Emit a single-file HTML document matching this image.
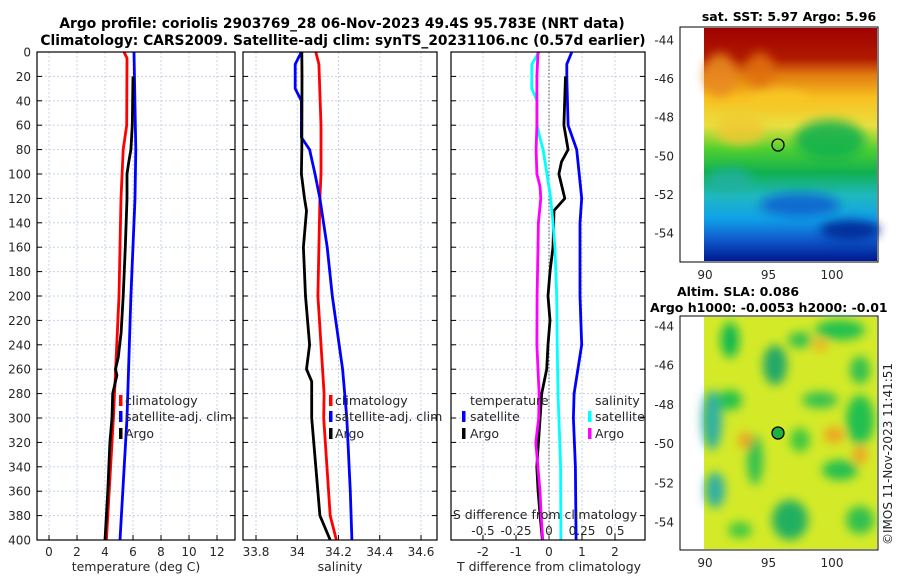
<!DOCTYPE html>
<html><head><meta charset="utf-8"><style>
body{margin:0;background:#fff;}
svg{display:block;font-family:"DejaVu Sans","Liberation Sans",sans-serif;}
.tk{font-size:12px;fill:#262626;}
.ttl{font-size:12.5px;font-weight:bold;fill:#000;}
.ttl2{font-size:13.8px;font-weight:bold;fill:#000;}
</style></head><body>
<svg id="fig" width="900" height="580" viewBox="0 0 900 580">
<defs>
<linearGradient id="sstg" x1="0" y1="0" x2="0" y2="1">
<stop offset="0" stop-color="#a00000"/><stop offset="0.13" stop-color="#b01a00"/>
<stop offset="0.2" stop-color="#e07a10"/><stop offset="0.3" stop-color="#f8c020"/>
<stop offset="0.42" stop-color="#e8e040"/><stop offset="0.52" stop-color="#50d030"/>
<stop offset="0.62" stop-color="#10b050"/><stop offset="0.72" stop-color="#20b8c0"/>
<stop offset="0.82" stop-color="#10a0e8"/><stop offset="0.9" stop-color="#1060d0"/>
<stop offset="1" stop-color="#001890"/></linearGradient>
<filter id="blur"><feGaussianBlur stdDeviation="5"/></filter>
</defs>
<text class="ttl2" x="342" y="28" text-anchor="middle">Argo profile: coriolis 2903769_28 06-Nov-2023 49.4S 95.783E (NRT data)</text>
<text class="ttl2" x="343" y="45" text-anchor="middle">Climatology: CARS2009. Satellite-adj clim: synTS_20231106.nc (0.57d earlier)</text>
<g id="plots"></g>
<g>
<text class="ttl" x="789" y="21" text-anchor="middle">sat. SST: 5.97 Argo: 5.96</text>
<rect x="680" y="27" width="198" height="235" fill="#fff" stroke="#000"/>
<rect x="704" y="28" width="173" height="233" fill="url(#sstg)"/>
<g filter="url(#blur)" opacity="0.85">
<ellipse cx="720" cy="75" rx="16" ry="22" fill="#e88a20"/>
<ellipse cx="760" cy="70" rx="14" ry="18" fill="#e07010"/>
<ellipse cx="830" cy="140" rx="35" ry="20" fill="#10b050"/>
<ellipse cx="740" cy="130" rx="25" ry="15" fill="#f0c830"/>
<ellipse cx="800" cy="205" rx="40" ry="12" fill="#1060d0"/>
<ellipse cx="730" cy="180" rx="22" ry="12" fill="#20b0a0"/>
<ellipse cx="850" cy="230" rx="30" ry="10" fill="#002090"/>
<ellipse cx="780" cy="100" rx="30" ry="10" fill="#f8c828"/>
</g>
<circle cx="778" cy="145" r="6" fill="none" stroke="#000" stroke-width="1.3"/>
</g>
<g>
<text class="ttl" x="677" y="296">Altim. SLA: 0.086</text>
<text class="ttl" x="650" y="312">Argo h1000: -0.0053 h2000: -0.01</text>
<rect x="680" y="316" width="198" height="234" fill="#fff" stroke="#000"/>
<rect x="704" y="317" width="173" height="232" fill="#d4ea28"/>
<g filter="url(#blur)">
<ellipse cx="730" cy="340" rx="9" ry="18" fill="#10b850"/>
<ellipse cx="775" cy="365" rx="12" ry="20" fill="#20a868"/>
<ellipse cx="712" cy="420" rx="10" ry="30" fill="#30b0a0"/>
<ellipse cx="715" cy="490" rx="10" ry="18" fill="#30b0a0"/>
<ellipse cx="840" cy="330" rx="25" ry="10" fill="#20c050"/>
<ellipse cx="860" cy="420" rx="14" ry="25" fill="#20c050"/>
<ellipse cx="790" cy="520" rx="18" ry="20" fill="#20b060"/>
<ellipse cx="840" cy="470" rx="18" ry="10" fill="#20c050"/>
<ellipse cx="755" cy="460" rx="8" ry="25" fill="#30c050"/>
<ellipse cx="820" cy="400" rx="18" ry="8" fill="#30c050"/>
<ellipse cx="730" cy="400" rx="12" ry="10" fill="#20c050"/>
<ellipse cx="800" cy="440" rx="10" ry="12" fill="#40c840"/>
<ellipse cx="860" cy="370" rx="10" ry="14" fill="#30c050"/>
<ellipse cx="740" cy="530" rx="12" ry="8" fill="#40c840"/>
<ellipse cx="800" cy="340" rx="12" ry="8" fill="#30c050"/>
<ellipse cx="860" cy="520" rx="14" ry="14" fill="#30c050"/>
<ellipse cx="834" cy="435" rx="10" ry="8" fill="#f0a020"/>
<ellipse cx="745" cy="440" rx="7" ry="8" fill="#f0a020"/>
<ellipse cx="820" cy="345" rx="8" ry="6" fill="#f0b020"/>
<ellipse cx="860" cy="455" rx="7" ry="9" fill="#f0a020"/>
</g>
<circle cx="778" cy="433" r="6" fill="#20b040" stroke="#000" stroke-width="1.3"/>
</g>
<text x="892" y="545" transform="rotate(-90 892 545)" font-size="12" fill="#262626">©IMOS 11-Nov-2023 11:41:51</text>
</svg>
<script>
// ---- data ----
const depthTicks = [0,20,40,60,80,100,120,140,160,180,200,220,240,260,280,300,320,340,360,380,400];
const tempTicks = [0,2,4,6,8,10,12];
const salTicks = [33.8,34,34.2,34.4,34.6];
const tdiffTicks = [-2,-1,0,1,2];
const sdiffTicks = [-0.5,-0.25,0,0.25,0.5];
const tClimDepth = [0,5,60,80,120,200,300,400];
const tClimVal = [5.36,5.57,5.55,5.3,5.14,5.0,4.6,4.1];
const tSatDepth = [0,80,120,200,300,400];
const tSatVal = [6.07,6.2,6.14,5.85,5.57,5.07];
const tArgoDepth = [20,60,80,90,100,120,160,200,230,250,260,265,280,300,320,360,400];
const tArgoVal = [6.0,5.95,5.85,5.7,5.57,5.57,5.45,5.3,5.15,4.95,4.75,4.85,4.55,4.5,4.35,4.2,4.0];
const sClimDepth = [0,10,60,100,120,200,280,300,380,400];
const sClimVal = [34.09,34.105,34.115,34.115,34.11,34.1,34.13,34.128,34.16,34.19];
const sSatDepth = [0,10,30,40,60,70,80,100,120,160,200,260,300,360,400];
const sSatVal = [34.02,33.99,33.99,34.02,34.02,34.02,34.06,34.086,34.11,34.145,34.17,34.22,34.24,34.257,34.265];
const sArgoDepth = [0,20,80,100,120,130,160,200,240,260,270,300,340,380,400];
const sArgoVal = [34.022,34.023,34.022,34.02,34.035,34.045,34.03,34.04,34.06,34.045,34.07,34.07,34.09,34.11,34.16];
const dtSatDepth = [0,10,20,60,80,120,140,200,240,280,300,340,400];
const dtSatVal = [0.69,0.54,0.54,0.58,0.84,0.99,0.94,0.94,0.99,0.76,0.74,0.8,0.82];
const dtArgoDepth = [20,60,80,90,100,120,130,160,180,200,220,240,260,280,300,340,360,380,400];
const dtArgoVal = [0.5,0.45,0.58,0.38,0.3,0.48,0.15,0.12,0.03,-0.03,0.03,-0.03,-0.07,-0.22,-0.27,-0.37,-0.33,-0.27,-0.2];
const dsSatDepth = [0,10,30,40,60,70,80,100,120,140,160,200,240,280,300,340,400];
const dsSatVal = [-0.075,-0.13,-0.13,-0.09,-0.09,-0.07,-0.045,-0.015,0.013,0.03,0.045,0.058,0.062,0.068,0.075,0.088,0.09];
const dsArgoDepth = [0,20,60,80,100,110,120,140,160,200,240,280,300,320,360,380,400];
const dsArgoVal = [-0.083,-0.092,-0.092,-0.098,-0.092,-0.068,-0.062,-0.08,-0.083,-0.09,-0.092,-0.075,-0.078,-0.1,-0.068,-0.06,-0.047];
const mapLatTicks = [-44,-46,-48,-50,-52,-54];
const mapLonTicks = [90,95,100];

const NS='http://www.w3.org/2000/svg';
const root=document.getElementById('plots');
function mk(tag,attrs,parent){const e=document.createElementNS(NS,tag);for(const k in attrs)e.setAttribute(k,attrs[k]);(parent||root).appendChild(e);return e;}
const Y0=52,Y1=540;
function yScale(d){return Y0+(d/400)*(Y1-Y0);}
function lin(d0,d1,r0,r1){return v=>r0+(v-d0)/(d1-d0)*(r1-r0);}

function panel(name,x0,x1,xs,ticks,labelFmt,showY){
  const g=mk('g',{});
  
  
  mk('rect',{x:x0,y:Y0,width:x1-x0,height:Y1-Y0,fill:'#fff'},g);
  depthTicks.forEach(d=>{if(d>0&&d<400)mk('line',{x1:x0,x2:x1,y1:yScale(d),y2:yScale(d),stroke:'#c8d0ea','stroke-dasharray':'2,2','stroke-width':1},g);});
  ticks.forEach(t=>{const x=xs(t);mk('line',{x1:x,x2:x,y1:Y0,y2:Y1,stroke:'#c8d0ea','stroke-dasharray':'2,2'},g);
    mk('line',{x1:x,x2:x,y1:Y1,y2:Y1-5,stroke:'#000'},g);
    const tx=mk('text',{x:x,y:Y1+16,'text-anchor':'middle',class:'tk'},g);tx.textContent=labelFmt(t);
    
    });
  depthTicks.forEach(d=>{mk('line',{x1:x0,x2:x0+5,y1:yScale(d),y2:yScale(d),stroke:'#000'},g);mk('line',{x1:x1,x2:x1-5,y1:yScale(d),y2:yScale(d),stroke:'#000'},g);
    if(showY){const t=mk('text',{x:x0-6,y:yScale(d)+4.5,'text-anchor':'end',class:'tk'},g);t.textContent=d;
      
      }});
  return g;
}
function frame(g,x0,x1){mk('rect',{x:x0,y:Y0,width:x1-x0,height:Y1-Y0,fill:'none',stroke:'#000','stroke-width':1.2},g);}
function series(g,name,ds,vs,xs,color,w){
  const pts=ds.map((d,i)=>xs(vs[i]).toFixed(1)+','+yScale(d).toFixed(1)).join(' ');
  const p=mk('polyline',{points:pts,fill:'none',stroke:color,'stroke-width':w||2.8,'stroke-linejoin':'round'},g);
  
  
}
function txt(g,name,x,y,s,anchor){const t=mk('text',{x:x,y:y,'font-size':'12.5px',fill:'#262626','text-anchor':anchor||'start'},g);t.textContent=s;
  
  return t;}
function legMark(g,x,y,c){mk('rect',{x:x,y:y-10,width:3.5,height:11,fill:c},g);}

const xT=lin(0,12,49,217);
const g1=panel('temperature-panel',37,235,xT,tempTicks,t=>t,true);
series(g1,'temp-climatology-line',tClimDepth,tClimVal,xT,'#ff0000');
series(g1,'temp-satellite-line',tSatDepth,tSatVal,xT,'#0000ff');
series(g1,'temp-argo-line',tArgoDepth,tArgoVal,xT,'#000');
legMark(g1,119,405,'#ff0000');txt(g1,'legend-climatology',125,405,'climatology');
legMark(g1,119,421,'#0000ff');txt(g1,'legend-satellite-adj',125,421,'satellite-adj. clim');
legMark(g1,119,438,'#000');txt(g1,'legend-argo',125,438,'Argo');
frame(g1,37,235);
txt(g1,'x-axis-title-temperature',136,571,'temperature (deg C)','middle');

const xS=lin(33.8,34.6,256,421);
const g2=panel('salinity-panel',243,437,xS,salTicks,t=>t.toFixed(1).replace(/\.0$/,''),false);
series(g2,'sal-climatology-line',sClimDepth,sClimVal,xS,'#ff0000');
series(g2,'sal-satellite-line',sSatDepth,sSatVal,xS,'#0000ff');
series(g2,'sal-argo-line',sArgoDepth,sArgoVal,xS,'#000');
legMark(g2,329,405,'#ff0000');txt(g2,'legend-climatology-2',335,405,'climatology');
legMark(g2,329,421,'#0000ff');txt(g2,'legend-satellite-adj-2',335,421,'satellite-adj. clim');
legMark(g2,329,438,'#000');txt(g2,'legend-argo-2',335,438,'Argo');
frame(g2,243,437);
txt(g2,'x-axis-title-salinity',340,571,'salinity','middle');

const xDT=lin(0,1,549,582);
const xDS=lin(0,0.25,549,582);
const g3=panel('difference-panel',451,645,xDT,tdiffTicks,t=>t,false);
mk('line',{x1:549,x2:549,y1:Y0,y2:Y1,stroke:'#555','stroke-dasharray':'1.5,2'},g3);
series(g3,'tdiff-satellite-line',dtSatDepth,dtSatVal,xDT,'#0000ff');
series(g3,'tdiff-argo-line',dtArgoDepth,dtArgoVal,xDT,'#000');
series(g3,'sdiff-satellite-line',dsSatDepth,dsSatVal,xDS,'#00ffff');
series(g3,'sdiff-argo-line',dsArgoDepth,dsArgoVal,xDS,'#ff00ff');
txt(g3,'legend-temperature-header',470,405,'temperature');
legMark(g3,462,421,'#0000ff');txt(g3,'legend-t-satellite',470,421,'satellite');
legMark(g3,462,438,'#000');txt(g3,'legend-t-argo',470,438,'Argo');
txt(g3,'legend-salinity-header',595,405,'salinity');
legMark(g3,588,421,'#00ffff');txt(g3,'legend-s-satellite',595,421,'satellite');
legMark(g3,588,438,'#ff00ff');txt(g3,'legend-s-argo',595,438,'Argo');
txt(g3,'s-axis-title',545,519,'S difference from climatology','middle');
sdiffTicks.forEach(s=>{const t=mk('text',{x:xDS(s),y:535,'text-anchor':'middle',class:'tk'},g3);t.textContent=s;
  
  });
frame(g3,451,645);
txt(g3,'x-axis-title-tdiff',549,571,'T difference from climatology','middle');

function mapAxes(name,top,lat44,lat54,bottom){
  const g=mk('g',{});
  
  
  const yL=lin(-44,-54,lat44,lat54), xL=lin(90,100,705,832);
  mapLatTicks.forEach(l=>{const y=yL(l);mk('line',{x1:680,x2:685,y1:y,y2:y,stroke:'#000'},g);mk('line',{x1:878,x2:873,y1:y,y2:y,stroke:'#000'},g);
    const t=mk('text',{x:674,y:y+4.5,'text-anchor':'end',class:'tk'},g);t.textContent=l;
    
    });
  mapLonTicks.forEach(l=>{const x=xL(l);mk('line',{x1:x,x2:x,y1:bottom,y2:bottom-5,stroke:'#000'},g);mk('line',{x1:x,x2:x,y1:top,y2:top+5,stroke:'#000'},g);
    const t=mk('text',{x:x,y:bottom+17,'text-anchor':'middle',class:'tk'},g);t.textContent=l;
    
    });
}
mapAxes('sst-map-axes',27,40,233,262);
mapAxes('sla-map-axes',316,326,522,550);
</script>
</body></html>
